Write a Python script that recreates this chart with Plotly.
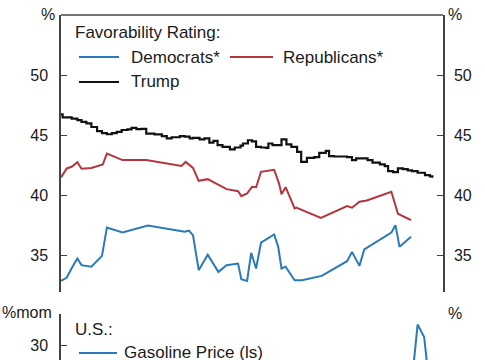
import plotly.graph_objects as go

W, H = 485, 360

# ---------------- data ----------------
trump_dates = ["2025-01-20","2025-01-22","2025-02-02","2025-02-09","2025-02-14","2025-02-20","2025-02-26",
               "2025-03-05","2025-03-11","2025-03-17","2025-03-23","2025-03-29","2025-04-04","2025-04-11",
               "2025-04-16","2025-04-22","2025-04-28","2025-05-04","2025-05-14","2025-05-23","2025-05-29",
               "2025-06-04","2025-06-14","2025-06-20","2025-06-26","2025-06-30","2025-07-08","2025-07-14",
               "2025-07-20","2025-07-25","2025-07-30","2025-08-05","2025-08-14","2025-08-20","2025-08-27",
               "2025-08-30","2025-09-05","2025-09-10","2025-09-15","2025-09-21","2025-09-27","2025-09-30",
               "2025-10-05","2025-10-13","2025-10-16","2025-10-22","2025-10-28","2025-11-04","2025-11-09",
               "2025-11-12","2025-11-16","2025-11-25","2025-12-01","2025-12-09","2025-12-13","2025-12-19",
               "2025-12-27","2026-01-04","2026-01-10","2026-01-15","2026-01-25","2026-01-29","2026-02-04",
               "2026-02-13","2026-02-19","2026-02-23","2026-03-01","2026-03-07","2026-03-13","2026-03-19",
               "2026-03-24","2026-03-31","2026-04-09","2026-04-15","2026-04-18"]
trump_vals = [46.75,46.5,46.4,46.27,46.13,46.0,45.7,
              45.36,45.2,45.1,45.2,45.3,45.45,45.5,
              45.63,45.52,45.55,45.15,45.08,44.95,44.75,
              44.85,44.94,44.9,44.75,44.8,44.67,44.75,
              44.4,44.55,44.2,44.05,43.84,44.0,44.15,
              44.33,44.6,44.5,44.05,44.0,43.97,44.33,
              44.2,44.2,44.67,44.25,44.05,43.64,42.8,
              42.8,43.14,43.2,43.56,43.72,43.28,43.25,
              43.25,43.2,42.95,43.1,43.1,42.95,42.75,
              42.6,42.45,42.04,41.95,42.26,42.2,42.1,
              42.04,41.9,41.7,41.6,41.48]

dem_dates = ["2025-01-20","2025-01-27","2025-02-03","2025-02-09","2025-02-14","2025-02-26","2025-03-11",
             "2025-03-17","2025-04-05","2025-05-06","2025-06-20","2025-06-25","2025-06-30","2025-07-07",
             "2025-07-18","2025-07-31","2025-08-10","2025-08-24","2025-08-28","2025-09-04","2025-09-09",
             "2025-09-15","2025-09-21","2025-10-07","2025-10-12","2025-10-16","2025-10-21","2025-11-01",
             "2025-11-10","2025-12-04","2026-01-04","2026-01-10","2026-01-19","2026-01-25","2026-02-27",
             "2026-03-04","2026-03-09","2026-03-23"]
dem_vals = [32.92,33.2,34.1,34.78,34.23,34.1,35.0,
            37.36,36.94,37.52,37.0,37.1,36.72,33.81,
            35.1,33.67,34.23,34.36,33.06,32.92,35.25,
            33.95,36.1,36.78,35.75,33.95,34.1,32.98,
            32.98,33.34,34.56,35.33,34.17,35.53,36.94,
            37.55,35.75,36.58]

rep_dates = ["2025-01-20","2025-01-27","2025-02-02","2025-02-09","2025-02-14","2025-02-26","2025-03-12",
             "2025-03-17","2025-04-05","2025-05-04","2025-06-16","2025-06-21","2025-06-30","2025-07-07",
             "2025-07-18","2025-08-10","2025-08-24","2025-08-28","2025-09-04","2025-09-10","2025-09-15",
             "2025-09-21","2025-10-07","2025-10-13","2025-10-16","2025-10-21","2025-11-01","2025-11-03",
             "2025-12-03","2026-01-04","2026-01-10","2026-01-19","2026-01-28","2026-02-27","2026-03-07",
             "2026-03-23"]
rep_vals = [41.51,42.26,42.4,42.78,42.23,42.3,42.6,
            43.5,42.95,42.95,42.47,42.8,42.3,41.23,
            41.37,40.54,40.37,39.96,40.18,40.73,40.7,
            41.98,42.15,41.0,40.12,40.7,38.94,39.0,
            38.16,39.13,39.0,39.5,39.6,40.32,38.5,
            37.96]

gas_dates = ["2026-02-24","2026-03-03","2026-03-10","2026-03-17","2026-03-24","2026-03-31","2026-04-08","2026-04-14"]
gas_vals = [1.0,-1.0,3.0,8.0,24.0,33.3,31.3,24.0]

x_range = ["2025-01-20", "2026-05-01"]
top_ticks = [35, 40, 45, 50]
bottom_ticks = [30]

# ---------------- style ----------------
FONT = "Liberation Sans, Arial, sans-serif"
TXT = "#1a1a1a"
AX = "#444444"
BLUE = "#2a7ab9"
RED = "#b5353f"
BLACK = "#111111"

def px(x):
    return x / W

def py(y):
    return 1 - y / H

x0, x1 = 61, 443
top_dom = [py(292), py(15)]
bot_dom = [0, py(314)]

fig = go.Figure()
fig.add_trace(go.Scatter(x=dem_dates, y=dem_vals, mode="lines", name="Democrats*",
                         line=dict(color=BLUE, width=2), xaxis="x", yaxis="y"))
fig.add_trace(go.Scatter(x=rep_dates, y=rep_vals, mode="lines", name="Republicans*",
                         line=dict(color=RED, width=2), xaxis="x", yaxis="y"))
fig.add_trace(go.Scatter(x=trump_dates, y=trump_vals, mode="lines", name="Trump",
                         line=dict(color=BLACK, width=2.2, shape="hv"), xaxis="x", yaxis="y2"))
fig.add_trace(go.Scatter(x=gas_dates, y=gas_vals, mode="lines", name="Gasoline Price (ls)",
                         line=dict(color=BLUE, width=2), xaxis="x2", yaxis="y3"))

yax_common = dict(showline=True, linecolor=AX, linewidth=1.5, ticks="inside", ticklen=6,
                  tickcolor=AX, tickwidth=1.2, showgrid=False, zeroline=False,
                  tickfont=dict(family=FONT, size=16, color=TXT))

fig.update_layout(
    width=W, height=H, margin=dict(l=0, r=0, t=0, b=0),
    paper_bgcolor="white", plot_bgcolor="white", showlegend=False,
    xaxis=dict(domain=[px(x0), px(x1)], anchor="y", type="date", range=x_range,
               showline=False, showticklabels=False, ticks="", showgrid=False, zeroline=False),
    xaxis2=dict(domain=[px(x0), px(x1)], anchor="y3", type="date", range=x_range, matches="x",
                showline=False, showticklabels=False, ticks="", showgrid=False, zeroline=False),
    yaxis=dict(domain=top_dom, anchor="x", range=[32, 55], tickvals=top_ticks, side="left",
               ticklabelstandoff=8, **yax_common),
    yaxis2=dict(overlaying="y", anchor="x", range=[32, 55], tickvals=top_ticks, side="right",
                ticklabelstandoff=6, **yax_common),
    yaxis3=dict(domain=bot_dom, anchor="x2", range=[35 - 46 / 6.2, 35], tickvals=bottom_ticks,
                side="left", ticklabelstandoff=8, **yax_common),
    yaxis4=dict(overlaying="y3", anchor="x2", range=[35 - 46 / 6.2, 35], side="right",
                showline=True, linecolor=AX, linewidth=1.5, ticks="", showticklabels=False,
                showgrid=False, zeroline=False),
)

# top border of upper panel
fig.add_shape(type="line", xref="x domain", yref="y domain", x0=0, x1=1, y0=1, y1=1,
              line=dict(color=AX, width=1.5))

def txt(x, y, s, size=17, anchor="left"):
    fig.add_annotation(x=px(x), y=py(y), xref="paper", yref="paper", text=s, showarrow=False,
                       xanchor=anchor, yanchor="middle", font=dict(family=FONT, size=size, color=TXT))

def seg(xa, xb, y, color):
    fig.add_shape(type="line", xref="paper", yref="paper", x0=px(xa), x1=px(xb), y0=py(y), y1=py(y),
                  line=dict(color=color, width=2))

# unit labels
txt(48, 15, "%", 16, "center")
txt(455, 15, "%", 16, "center")
txt(27, 312, "%mom", 16, "center")
txt(455, 313, "%", 16, "center")

# manual legend (upper)
txt(73, 32, "Favorability Rating:")
seg(79, 119, 57, BLUE)
txt(129, 57, "Democrats*")
seg(230, 273, 57, RED)
txt(281, 57, "Republicans*")
seg(79, 119, 82, BLACK)
txt(129, 82, "Trump")

# manual legend (lower)
txt(73, 329, "U.S.:")
seg(79, 117, 353, BLUE)
txt(122, 352, "Gasoline Price (ls)")

fig.write_html(
    "out.html",
    config={"displayModeBar": False},
    post_script="document.body.style.margin='0';document.body.style.overflow='hidden';",
)
